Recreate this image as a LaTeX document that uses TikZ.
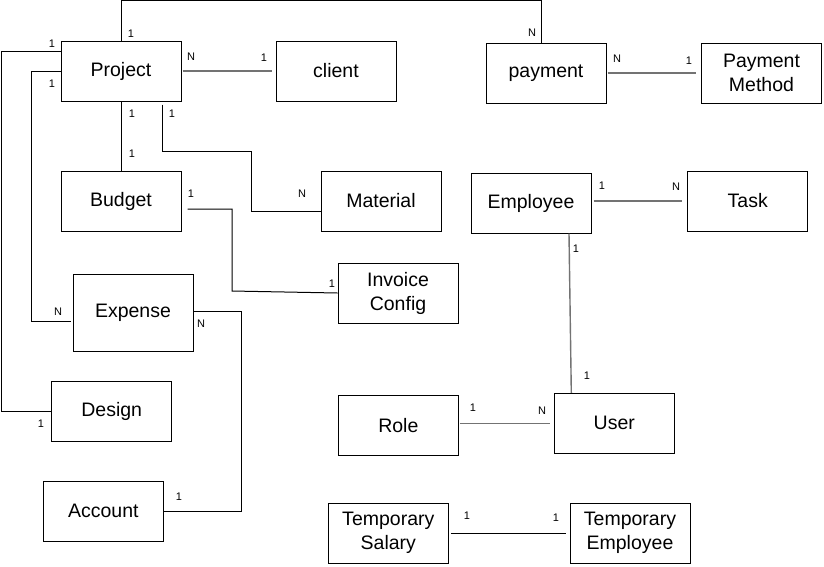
\documentclass[tikz,border=0pt]{standalone}
\usepackage{fontspec}
\setmainfont{Liberation Sans}
\begin{document}
\begin{tikzpicture}[x=1pt,y=-1pt,
  entity/.style={draw=black, line width=1pt, minimum width=120pt, minimum height=60pt, align=center, inner sep=0pt, font=\fontsize{19.5}{24}\selectfont},
  link/.style={draw=black, line width=1pt},
  glink/.style={draw=black!55, line width=1.4pt},
  card/.style={font=\fontsize{11}{13}\selectfont, inner sep=0pt}]
\useasboundingbox[fill=white] (0,0) rectangle (824,566);
% entities
\node[entity] (project) at (121,71) {Project};
\node[entity] (client) at (336,71) {client};
\node[entity] (payment) at (546,73) {payment};
\node[entity] (pm) at (761.5,73) {Payment\\Method};
\node[entity] (budget) at (121,201) {Budget};
\node[entity] (material) at (381,201) {Material};
\node[entity] (invoice) at (398,293) {Invoice\\Config};
\node[entity, minimum height=77pt] (expense) at (133,312.5) {Expense};
\node[entity] (employee) at (531,203) {Employee};
\node[entity] (task) at (747.7,201) {Task};
\node[entity] (design) at (111.7,411.3) {Design};
\node[entity] (account) at (103.3,511.3) {Account};
\node[entity] (role) at (398.3,425.3) {Role};
\node[entity] (user) at (614.3,423.3) {User};
\node[entity] (ts) at (388.3,533.3) {Temporary\\Salary};
\node[entity] (te) at (630,533.3) {Temporary\\Employee};
% connectors
\draw[link] (project.north) -- ++(0,-40) -| ([xshift=-5pt]payment.north);
\draw[glink] ([xshift=1pt]project.east) -- ([xshift=-4pt]client.west);
\draw[link] ([yshift=20pt]project.west) -- ++(-59,0) |- (design.west);
\draw[link] (project.west) -- ++(-29,0) |- ([shift={(-2,8.5)}]expense.west);
\draw[link] (project.south) -- (budget.north);
\draw[link] ([shift={(41,3)}]project.south) |- (251,151) |- ([yshift=-10pt]material.west);
\draw[link] ([shift={(6,8)}]budget.east) -| (232,291) -- (invoice.west);
\draw[link] ([yshift=1.5pt]expense.east) -| ([xshift=78pt]account.east) -- (account.east);
\draw[glink] ([xshift=1pt]payment.east) -- ([xshift=-5pt]pm.west);
\draw[glink] ([xshift=2pt]employee.east |- task.west) -- ([xshift=-5pt]task.west);
\draw[glink] ([xshift=38pt]employee.south) -- ([xshift=-43pt]user.north);
\draw[glink] ([xshift=1pt]role.east |- user.west) -- ([xshift=-4pt]user.west);
\draw[link] ([xshift=2pt]ts.east) -- ([xshift=-4pt]te.west);
% cardinalities
\node[card] (c1) at (131,34) {1};
\node[card] (c2) at (532,33) {N};
\node[card] (c3) at (191,57) {N};
\node[card] (c4) at (264,58) {1};
\node[card] (c5) at (52,44) {1};
\node[card] (c6) at (52,84) {1};
\node[card] (c7) at (132,114) {1};
\node[card] (c8) at (132,154) {1};
\node[card] (c9) at (172,114) {1};
\node[card] (c10) at (617,59) {N};
\node[card] (c11) at (689,61) {1};
\node[card] (c12) at (191,194) {1};
\node[card] (c13) at (302,194) {N};
\node[card] (c14) at (332,284) {1};
\node[card] (c15) at (58,312) {N};
\node[card] (c16) at (201,324) {N};
\node[card] (c17) at (41,424) {1};
\node[card] (c18) at (179,497) {1};
\node[card] (c19) at (602,186) {1};
\node[card] (c20) at (676,187) {N};
\node[card] (c21) at (576,249) {1};
\node[card] (c22) at (587,376) {1};
\node[card] (c23) at (473,408) {1};
\node[card] (c24) at (542,411) {N};
\node[card] (c25) at (467,516) {1};
\node[card] (c26) at (556,518) {1};
\end{tikzpicture}
\end{document}
